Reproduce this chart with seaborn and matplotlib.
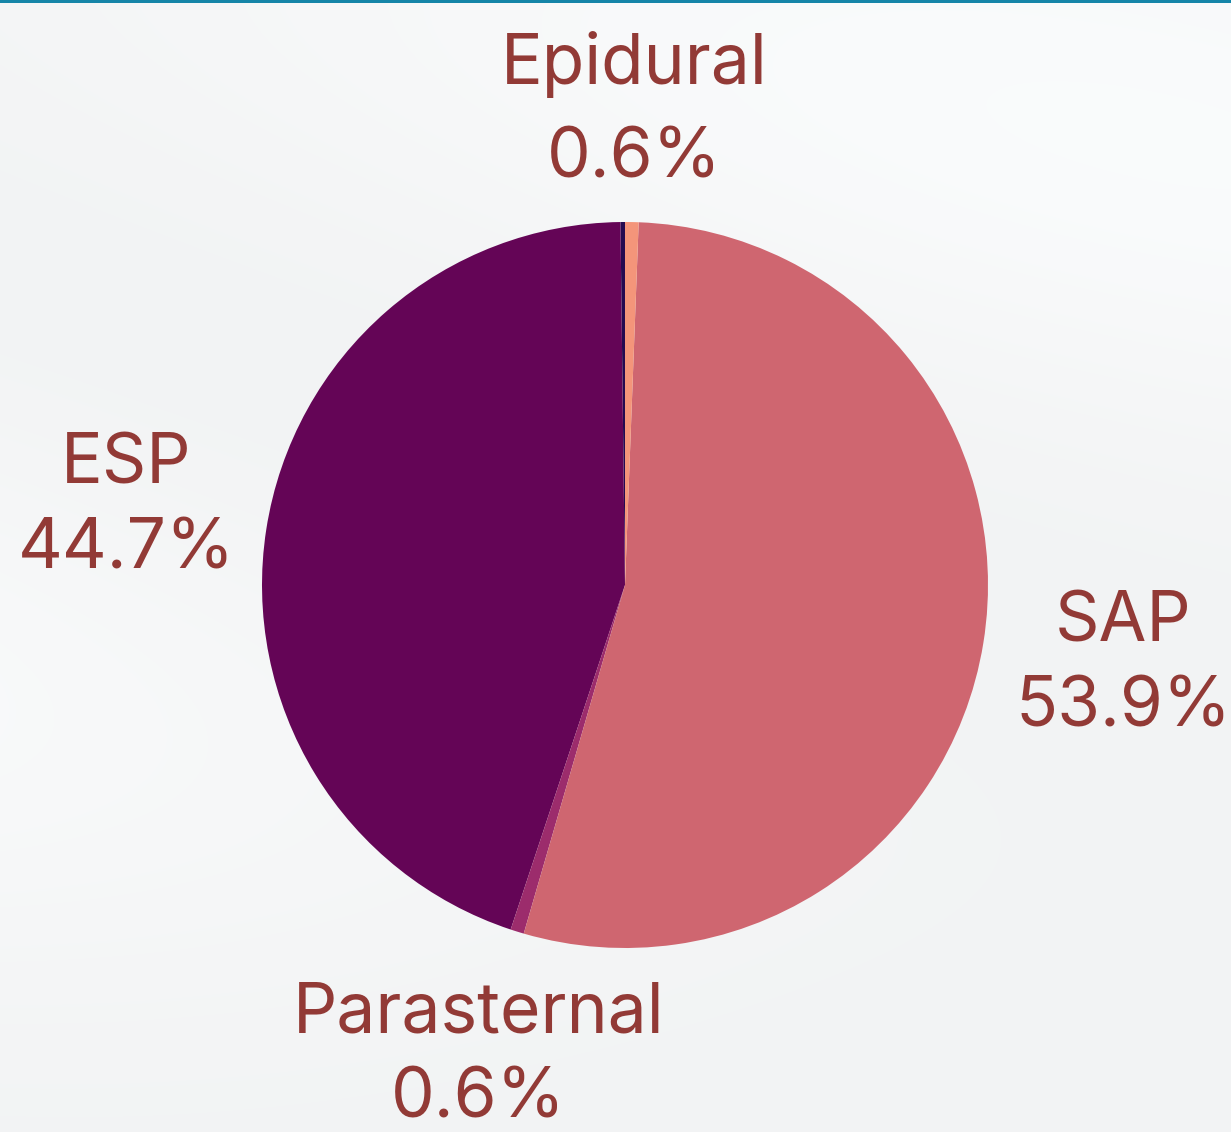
import numpy as np
import matplotlib
matplotlib.use("Agg")
import matplotlib.pyplot as plt
import seaborn as sns

# ---- data (counter-clockwise from 12 o'clock) ----
categories = ["Other", "ESP", "Parasternal", "SAP", "Epidural"]
shares = [0.2, 44.7, 0.6, 53.9, 0.6]
pct_labels = ["", "44.7%", "0.6%", "53.9%", "0.6%"]
colors = ["#240a50", "#640556", "#9c2c6c", "#cf6670", "#f4957a"]

sns.set_theme(style="white")
plt.rcParams['font.family'] = ['Inter', 'DejaVu Sans']

W, H = 1231, 1132
cx, cy, R = 625, 585, 363
fig = plt.figure(figsize=(W / 100, H / 100), dpi=100)
fig.patch.set_facecolor("#f5f6f7")

# background soft streaks
bg = fig.add_axes([0, 0, 1, 1])
bg.set_xlim(0, W)
bg.set_ylim(H, 0)
bg.axis("off")
yy, xx = np.mgrid[0:H, 0:W]
field = 0.5 + 0.5 * np.sin((xx * 0.35 - yy) / 170.0)
field2 = 0.5 + 0.5 * np.sin((xx * 0.25 + yy * 0.9) / 260.0)
val = 0.955 + 0.03 * field * field2
img = np.dstack([val - 0.005, val, val + 0.003])
bg.imshow(np.clip(img, 0, 1), extent=[0, W, H, 0], aspect="auto", zorder=0)
bg.add_patch(plt.Rectangle((0, 0), W, 2.5, color="#1585a8", zorder=2, lw=0))

ax = fig.add_axes([0, 0, 1, 1])
ax.patch.set_alpha(0)

wedges, _ = ax.pie(shares, colors=colors, startangle=90, counterclock=True,
                   radius=1.0, center=(0, 0), wedgeprops=dict(linewidth=0))
ax.axis("off")
ax.set_aspect("auto")
ax.set_xlim(-cx / R, (W - cx) / R)
ax.set_ylim(-(H - cy) / R, cy / R)

dist = {"ESP": 1.39, "Parasternal": 1.36, "SAP": 1.39, "Epidural": 1.305}
spacing = {"ESP": 1.4, "Parasternal": 1.4, "SAP": 1.4, "Epidural": 1.55}
for w, cat, pl in zip(wedges, categories, pct_labels):
    if not pl:
        continue
    ang = np.deg2rad((w.theta1 + w.theta2) / 2)
    d = dist[cat]
    x, y = d * np.cos(ang), d * np.sin(ang)
    ax.text(x, y, f"{cat}\n{pl}", ha="center", va="center", fontsize=50,
            color="#923a36", linespacing=spacing[cat])

fig.savefig("out.png", dpi=100, facecolor=fig.get_facecolor())
